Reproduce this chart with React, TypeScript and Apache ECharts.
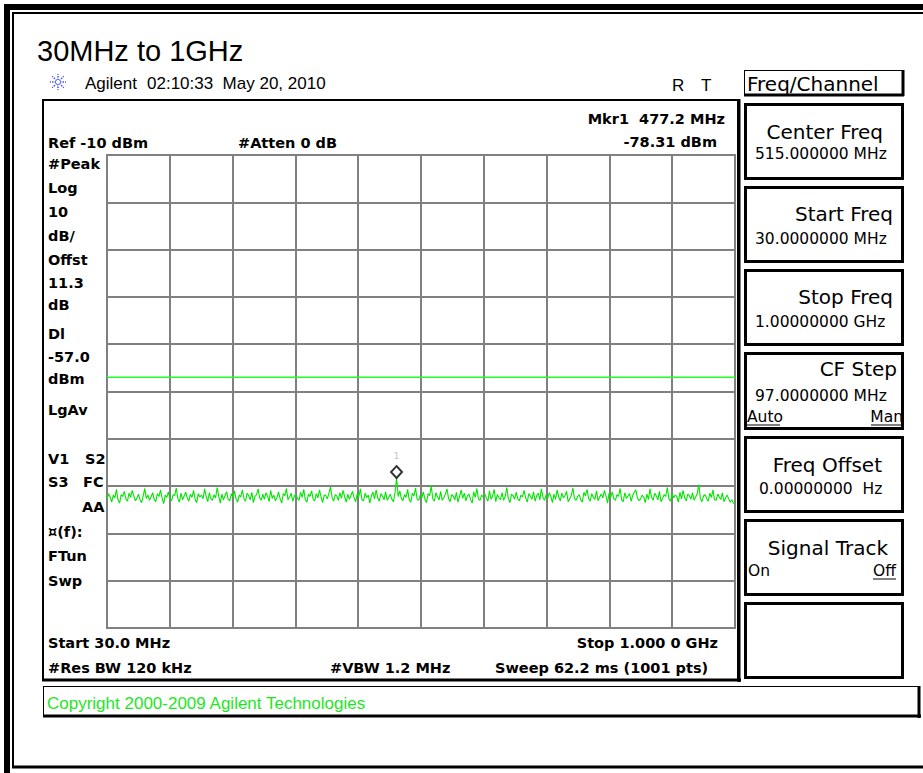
import React, { useEffect, useRef } from "react";
import * as echarts from "echarts";

// ---- instrument settings ----
const START_MHZ = 30;
const STOP_MHZ = 1000;
const REF_DBM = -10;
const DB_PER_DIV = 10;
const DIVISIONS = 10;
const DISPLAY_LINE_DBM = -57;
const MARKER_MHZ = 477.2;
const MARKER_DBM = -78.31;

// ---- trace (dBm), read from the sweep, evenly spaced from start to stop ----
const traceDbm = [
  -82.8, -81.6, -82.3, -83.4, -81.9, -82.5, -80.7, -82.9, -83.6, -81.8, -82.2, -81.1, -82.7, -83.2, -81.5, -82.4, -80.9, -82.0, -83.1, -82.6,
  -81.7, -82.9, -83.5, -82.1, -80.5, -82.6, -81.9, -83.0, -82.3, -81.4, -82.8, -83.3, -81.6, -82.2, -80.8, -82.5, -83.7, -81.9, -82.4, -81.2,
  -82.7, -83.1, -81.8, -82.0, -80.4, -82.6, -83.4, -81.5, -82.9, -82.1, -81.3, -82.5, -83.2, -81.7, -82.4, -80.9, -82.8, -83.5, -81.6, -82.3,
  -81.9, -82.7, -80.6, -82.2, -83.3, -81.4, -82.6, -83.0, -81.8, -82.5, -80.3, -82.1, -83.6, -81.7, -82.9, -82.0, -81.2, -82.8, -83.1, -81.6,
  -82.4, -81.0, -82.7, -83.4, -81.9, -82.3, -80.8, -82.6, -83.2, -81.5, -82.0, -82.9, -81.3, -83.5, -82.2, -81.8, -80.6, -82.5, -83.0, -81.7,
  -82.8, -81.4, -82.1, -83.3, -80.9, -82.6, -81.9, -83.1, -82.4, -81.2, -82.7, -83.6, -81.6, -82.0, -80.5, -82.9, -82.3, -81.5, -83.2, -82.1,
  -81.8, -82.6, -83.0, -81.3, -82.4, -80.7, -82.9, -83.4, -81.7, -82.2, -81.0, -82.8, -83.1, -81.6, -82.5, -80.8, -82.3, -83.5, -81.9, -82.0,
  -82.7, -81.5, -80.2, -82.4, -83.2, -81.8, -82.1, -83.0, -81.4, -82.6, -80.9, -82.3, -83.4, -81.7, -82.8, -82.0, -81.1, -82.5, -83.3, -81.6,
  -82.2, -80.6, -82.9, -83.1, -81.5, -82.4, -81.9, -83.6, -82.0, -81.3, -82.7, -80.8, -82.5, -83.2, -81.6, -82.1, -82.9, -81.2, -83.0, -82.4,
  -81.7, -82.8, -83.3, -81.4, -78.3, -82.2, -81.0, -82.6, -83.1, -81.8, -82.4, -80.7, -82.9, -83.4, -81.5, -82.1, -80.4, -82.7, -83.0, -81.9,
  -82.5, -81.2, -82.8, -83.5, -81.6, -82.0, -79.9, -82.7, -83.2, -81.4, -82.3, -82.9, -81.1, -83.0, -82.4, -81.7, -80.6, -82.6, -83.3, -81.8,
  -82.1, -82.9, -81.3, -83.4, -82.2, -80.8, -82.6, -81.5, -83.1, -82.0, -81.7, -82.8, -83.6, -81.2, -82.4, -80.5, -82.7, -83.0, -81.9, -82.3,
  -81.6, -82.5, -83.2, -81.0, -82.8, -82.1, -80.7, -83.3, -81.8, -82.4, -82.9, -81.4, -83.0, -82.2, -80.3, -82.6, -83.5, -81.7, -82.0, -82.8,
  -81.3, -82.7, -83.1, -81.9, -82.3, -80.9, -82.5, -83.4, -81.6, -82.1, -82.8, -81.2, -83.2, -82.0, -81.5, -82.9, -80.6, -82.4, -83.0, -81.8,
  -82.6, -81.4, -82.2, -83.5, -81.7, -82.8, -80.8, -82.3, -83.1, -81.5, -82.5, -82.0, -81.1, -83.3, -82.7, -81.9, -80.4, -82.6, -83.0, -82.2,
  -81.8, -82.9, -83.4, -81.3, -82.1, -80.7, -82.6, -83.2, -81.6, -82.4, -82.8, -81.0, -83.1, -82.3, -81.7, -82.5, -80.9, -82.0, -83.6, -81.5,
  -82.4, -81.2, -82.7, -83.0, -81.8, -82.2, -80.5, -82.9, -83.3, -81.4, -82.6, -82.1, -81.6, -83.2, -82.0, -81.3, -80.8, -82.5, -83.1, -82.7,
  -81.9, -82.3, -83.5, -81.7, -82.8, -80.6, -82.4, -83.0, -81.5, -82.1, -82.9, -81.1, -83.3, -82.6, -81.8, -82.2, -80.3, -82.7, -83.2, -81.6,
  -82.5, -81.9, -82.2, -83.4, -81.3, -82.7, -80.9, -82.4, -83.1, -81.7, -82.0, -82.8, -81.4, -83.0, -82.3, -81.6, -79.7, -82.6, -83.3, -82.1,
  -81.8, -82.6, -83.2, -81.5, -82.4, -80.8, -82.9, -83.0, -81.7, -82.3, -82.8, -81.4, -83.3, -82.5, -81.9, -82.7, -83.4, -82.9, -83.6, -83.8,
];

// ---- annotation texts ----
const leftLabels = ["#Peak", "Log", "10", "dB/", "Offst", "11.3", "dB", "Dl", "-57.0", "dBm", "LgAv"];
const leftLabelsLower = ["¤(f):", "FTun", "Swp"];
const softKeyTitles = ["Center Freq", "Start Freq", "Stop Freq", "CF Step", "Freq Offset", "Signal Track", ""];
const softKeyValues = ["515.000000 MHz", "30.0000000 MHz", "1.00000000 GHz", "97.0000000 MHz", "0.00000000\u00a0\u00a0Hz", "", ""];

const BOLD = 'bold 14.5px "DejaVu Sans"';
const PANEL_T = '20px "DejaVu Sans"';
const PANEL_V = '15.5px "DejaVu Sans"';
const ARIAL = '"Liberation Sans", Arial';

function txt(text: string, x: number, y: number, font: string, align = "left", fill = "#000") {
  return {
    type: "text",
    x,
    y,
    silent: true,
    style: {
      text,
      font,
      fill,
      align,
      verticalAlign: "middle",
      textAlign: align,
      textVerticalAlign: "middle",
    },
  };
}

function ln(x1: number, y1: number, x2: number, y2: number, w: number, color = "#000", dash?: number[]) {
  return {
    type: "line",
    silent: true,
    shape: { x1, y1, x2, y2 },
    style: { stroke: color, lineWidth: w, lineDash: dash },
  };
}

function buildGraphics() {
  const g: any[] = [];
  // outer frame
  g.push(ln(4, 7, 923, 7, 6));
  g.push(ln(7, 4, 7, 773, 6));
  g.push(ln(12, 13, 923, 13, 2));
  g.push(ln(13, 12, 13, 768, 2));
  g.push(ln(12, 767, 923, 767, 3));

  // title & header
  g.push(txt("30MHz to 1GHz", 37, 51, `29px ${ARIAL}`));
  for (let k = 0; k < 8; k++) {
    const a = (k * Math.PI) / 4;
    g.push(ln(58 + Math.cos(a) * 2, 82 + Math.sin(a) * 2, 58 + Math.cos(a) * 8, 82 + Math.sin(a) * 8, 1.4, "#2a3cff", [1.3, 1.3]));
  }
  g.push(txt("Agilent", 85, 83, `17px ${ARIAL}`));
  g.push(txt("02:10:33\u00a0\u00a0May 20, 2010", 147, 83, `17px ${ARIAL}`));
  g.push(txt("R", 672, 85, `17px ${ARIAL}`));
  g.push(txt("T", 701, 85, `17px ${ARIAL}`));

  // screen box
  g.push({ type: "rect", silent: true, shape: { x: 43, y: 100, width: 695, height: 580 }, style: { fill: "none", stroke: "#000", lineWidth: 2 } });
  g.push(ln(739, 99, 739, 682, 3));
  g.push(ln(42, 680, 741, 680, 3));

  // screen annotations
  g.push(txt("Ref -10 dBm", 48, 143, BOLD));
  g.push(txt("#Atten 0 dB", 238, 143, BOLD));
  g.push(txt("Mkr1\u00a0\u00a0477.2 MHz", 725, 119, BOLD, "right"));
  g.push(txt("-78.31 dBm", 717, 142, BOLD, "right"));
  const leftY = [164, 188, 212, 236, 260, 283, 305, 334, 357, 379, 410];
  leftLabels.forEach((t, i) => g.push(txt(t, 48, leftY[i], BOLD)));
  g.push(txt("V1", 48, 459, BOLD));
  g.push(txt("S2", 85, 459, BOLD));
  g.push(txt("S3", 48, 482, BOLD));
  g.push(txt("FC", 83, 482, BOLD));
  g.push(txt("AA", 82, 507, BOLD));
  const lowY = [532, 556, 581];
  leftLabelsLower.forEach((t, i) => g.push(txt(t, 48, lowY[i], BOLD)));
  g.push(txt("Start 30.0 MHz", 48, 643, BOLD));
  g.push(txt("Stop 1.000 0 GHz", 718, 643, BOLD, "right"));
  g.push(txt("#Res BW 120 kHz", 48, 668, BOLD));
  g.push(txt("#VBW 1.2 MHz", 330, 668, BOLD));
  g.push(txt("Sweep 62.2 ms (1001 pts)", 495, 668, BOLD));

  // copyright box
  g.push(ln(43, 686.5, 920, 686.5, 1));
  g.push(ln(43.5, 686, 43.5, 717, 1));
  g.push(ln(919, 686, 919, 718, 3));
  g.push(ln(43, 716, 921, 716, 3));
  g.push(txt("Copyright 2000-2009 Agilent Technologies", 47, 703, `17px ${ARIAL}`, "left", "#1ee61e"));

  // soft key panel header
  g.push(ln(744, 70.5, 904, 70.5, 1));
  g.push(ln(744.5, 70, 744.5, 96, 1));
  g.push(ln(903, 70, 903, 96, 3));
  g.push(ln(744, 95, 904, 95, 3));
  g.push(txt("Freq/Channel", 747, 84, PANEL_T));

  // soft keys
  const keyTop = [103, 186, 269, 352, 436, 519, 602];
  const keyH = [77, 77, 77, 78, 77, 77, 77];
  const titleRight = [883, 893, 893, 897, 882, 888, 0];
  const titleY = [132, 214, 297, 369, 465, 548, 0];
  const valueX = [755, 755, 755, 755, 759, 0, 0];
  const valueY = [154, 239, 322, 396, 489, 0, 0];
  keyTop.forEach((y, i) => {
    g.push({ type: "rect", silent: true, shape: { x: 745.5, y: y + 1.5, width: 157, height: keyH[i] - 3 }, style: { fill: "#fff", stroke: "#000", lineWidth: 3 } });
    if (softKeyTitles[i]) g.push(txt(softKeyTitles[i], titleRight[i], titleY[i], PANEL_T, "right"));
    if (softKeyValues[i]) g.push(txt(softKeyValues[i], valueX[i], valueY[i], PANEL_V));
  });
  // CF Step Auto / Man
  g.push(txt("Auto", 747, 417, PANEL_V));
  g.push(ln(747, 425, 780, 425, 1));
  g.push(txt("Man", 903, 417, PANEL_V, "right"));
  g.push(ln(871, 425, 903, 425, 1));
  // Signal Track On / Off
  g.push(txt("On", 748, 571, PANEL_V));
  g.push(txt("Off", 896, 571, PANEL_V, "right"));
  g.push(ln(873, 579, 896, 579, 1));
  return g;
}

export default function App() {
  const ref = useRef<HTMLDivElement>(null);
  useEffect(() => {
    if (!ref.current) return;
    const chart = echarts.init(ref.current, null, { renderer: "svg" });
    const span = STOP_MHZ - START_MHZ;
    const trace = traceDbm.map((v, i) => [(i * span) / (traceDbm.length - 1), v]);
    const yMin = REF_DBM - DB_PER_DIV * DIVISIONS;
    chart.setOption({
      animation: false,
      backgroundColor: "#fff",
      grid: { left: 107, top: 155, width: 628, height: 473, show: true, borderColor: "#808080", borderWidth: 2, backgroundColor: "transparent" },
      xAxis: {
        type: "value",
        min: 0,
        max: span,
        interval: span / DIVISIONS,
        axisLine: { show: false },
        axisTick: { show: false },
        axisLabel: { show: false },
        splitLine: { show: true, lineStyle: { color: "#808080", width: 2 } },
      },
      yAxis: {
        type: "value",
        min: yMin,
        max: REF_DBM,
        interval: DB_PER_DIV,
        axisLine: { show: false },
        axisTick: { show: false },
        axisLabel: { show: false },
        splitLine: { show: true, lineStyle: { color: "#808080", width: 2 } },
      },
      series: [
        {
          type: "line",
          data: [[0, DISPLAY_LINE_DBM], [span, DISPLAY_LINE_DBM]],
          showSymbol: false,
          symbol: "none",
          lineStyle: { color: "#22ff22", width: 1.5 },
          z: 3,
          silent: true,
        },
        {
          type: "line",
          data: trace,
          showSymbol: false,
          symbol: "none",
          lineStyle: { color: "#00e600", width: 1.1 },
          z: 3,
          silent: true,
        },
        {
          type: "scatter",
          data: [[MARKER_MHZ - START_MHZ, MARKER_DBM]],
          symbol: "diamond",
          symbolSize: [11, 12],
          symbolOffset: [0, -6],
          itemStyle: { color: "#fff", borderColor: "#000", borderWidth: 2 },
          label: { show: true, formatter: "1", position: "top", distance: 5, color: "#aaa", fontSize: 8, fontFamily: "DejaVu Sans" },
          z: 4,
          silent: true,
        },
      ],
      graphic: { elements: buildGraphics() },
    });
    return () => chart.dispose();
  }, []);
  return (
    <div
      ref={ref}
      style={{ position: "absolute", left: 0, top: 0, width: 923, height: 773, background: "#fff" }}
    />
  );
}
